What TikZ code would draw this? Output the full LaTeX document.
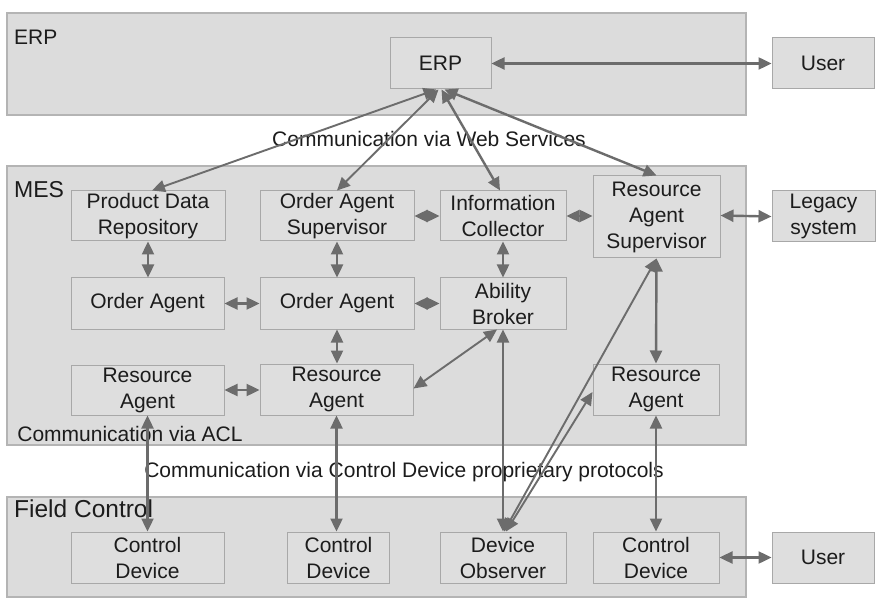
\documentclass[tikz,border=0pt]{standalone}
\usepackage{fontspec}
\setmainfont{Liberation Sans}
\usetikzlibrary{arrows.meta,calc}

\definecolor{layerfill}{HTML}{DCDCDC}
\definecolor{layerline}{HTML}{B4B4B4}
\definecolor{boxfill}{HTML}{DEDEDE}
\definecolor{boxline}{HTML}{A8A8A8}
\definecolor{linkc}{HTML}{6C6C6C}
\definecolor{txt}{HTML}{1C1C1C}

\begin{document}
\begin{tikzpicture}[x=1pt,y=-1pt,
  layer/.style={draw=layerline, fill=layerfill, line width=1.2pt},
  box/.style={draw=boxline, fill=boxfill, line width=1pt, inner sep=0pt,
    align=center, text=txt, font=\fontsize{21}{26}\selectfont},
  layerlabel/.style={anchor=base west, inner sep=0pt, text=txt},
  note/.style={anchor=base, inner sep=0pt, text=txt, font=\fontsize{21}{26}\selectfont},
  link/.style={draw=linkc, line width=2.4pt,
    {Triangle[length=13pt,width=12pt]}-{Triangle[length=13pt,width=12pt]}},
  thinlink/.style={link, line width=1.9pt}
]
\useasboundingbox (0,0) rectangle (880,601);
\fill[white] (0,0) rectangle (880,601);

% layers
\draw[layer] (7,13) rectangle (746,115);
\draw[layer] (7,166) rectangle (746,445);
\draw[layer] (7,497) rectangle (746,597);

\node[layerlabel, font=\fontsize{21}{26}\selectfont] (lerp) at (14,45) {ERP};
\node[layerlabel, font=\fontsize{23}{28}\selectfont] (lmes) at (14,198) {MES};
\node[layerlabel, font=\fontsize{24.5}{30}\selectfont] (lfield) at (14,517) {Field Control};

% boxes of the ERP layer
\node[box, minimum width=101pt, minimum height=51pt] (erp) at (440.5,63.5) {ERP};
\node[box, minimum width=102pt, minimum height=51pt] (user1) at (823,63.5) {User};

% boxes of the MES layer
\node[box, minimum width=154pt, minimum height=50pt] (pdr) at (148,216) {Product Data\\Repository};
\node[box, minimum width=154pt, minimum height=50pt] (oas) at (337,216) {Order Agent\\Supervisor};
\node[box, minimum width=126pt, minimum height=50pt] (ic) at (503,216) {Information\\Collector};
\node[box, minimum width=127pt, minimum height=82pt] (ras) at (656.5,217) {Resource\\Agent\\Supervisor};
\node[box, minimum width=103pt, minimum height=51pt] (legacy) at (823.5,216.5) {Legacy\\system};

\node[box, minimum width=153pt, minimum height=51pt] (oal) at (147.5,303.5) {Order Agent};
\node[box, minimum width=154pt, minimum height=51pt] (oam) at (337,303.5) {Order Agent};
\node[box, minimum width=126pt, minimum height=51pt] (ab) at (503,303.5) {Ability\\Broker};

\node[box, minimum width=153pt, minimum height=50pt] (ral) at (147.5,390) {Resource\\Agent};
\node[box, minimum width=153pt, minimum height=51pt] (ram) at (336.5,389.5) {Resource\\Agent};
\node[box, minimum width=126pt, minimum height=51pt] (rar) at (656,389.5) {Resource\\Agent};

% boxes of the field control layer
\node[box, minimum width=153pt, minimum height=51pt] (cd1) at (147.5,557.5) {Control\\Device};
\node[box, minimum width=102pt, minimum height=51pt] (cd2) at (338.5,557.5) {Control\\Device};
\node[box, minimum width=126pt, minimum height=51pt] (do) at (503,557.5) {Device\\Observer};
\node[box, minimum width=126pt, minimum height=51pt] (cd4) at (656,557.5) {Control\\Device};
\node[box, minimum width=102pt, minimum height=51pt] (user2) at (823,557.5) {User};

% communication notes
\node[note] (webs) at (429,147) {Communication via Web Services};
\node[note] (acl) at (130,441) {Communication via ACL};
\node[note] (proto) at (404,477) {Communication via Control Device proprietary protocols};

% web service links
\draw[link] (erp.east) -- (user1.west);
\draw[thinlink] ($(erp.south)+(-4,0)$) -- ($(pdr.north)+(4,0)$);
\draw[thinlink] ($(erp.south)+(-2,0)$) -- (oas.north);
\draw[link] ($(erp.south)+(1,0)$) -- ($(ic.north)+(-3,0)$);
\draw[link] ($(erp.south)+(4,0)$) -- (ras.north);

% ACL links
\draw[link] (oas.east) -- (ic.west);
\draw[link] (ic.east) -- ($(ras.west)+(0,-1)$);
\draw[link] ($(ras.east)+(0,-1.5)$) -- (legacy.west);
\draw[link] (pdr.south) -- (pdr.south |- oal.north);
\draw[link] (oas.south) -- (oas.south |- oam.north);
\draw[link] (ic.south) -- (ab.north);
\draw[link] (oal.east) -- (oam.west);
\draw[link] (oam.east) -- (ab.west);
\draw[link] (oam.south) -- (oam.south |- ram.north);
\draw[link] (ral.east) -- (ral.east -| ram.west);
\draw[thinlink] ($(ab.south)+(-6,0)$) -- ($(ram.east)+(0,-1)$);
\draw[link] (ras.south) -- (rar.north);

% device protocol links
\draw[link] (ab.south) -- (do.north);
\draw[thinlink] ($(do.north)+(1,0)$) -- (ras.south);
\draw[thinlink] ($(do.north)+(3,0)$) -- ($(rar.west)+(0,2.5)$);
\draw[link] (ral.south) -- (ral.south |- cd1.north);
\draw[link] (ram.south) -- (ram.south |- cd2.north);
\draw[link] (rar.south) -- (cd4.north);
\draw[link] (cd4.east) -- (user2.west);
\end{tikzpicture}
\end{document}
